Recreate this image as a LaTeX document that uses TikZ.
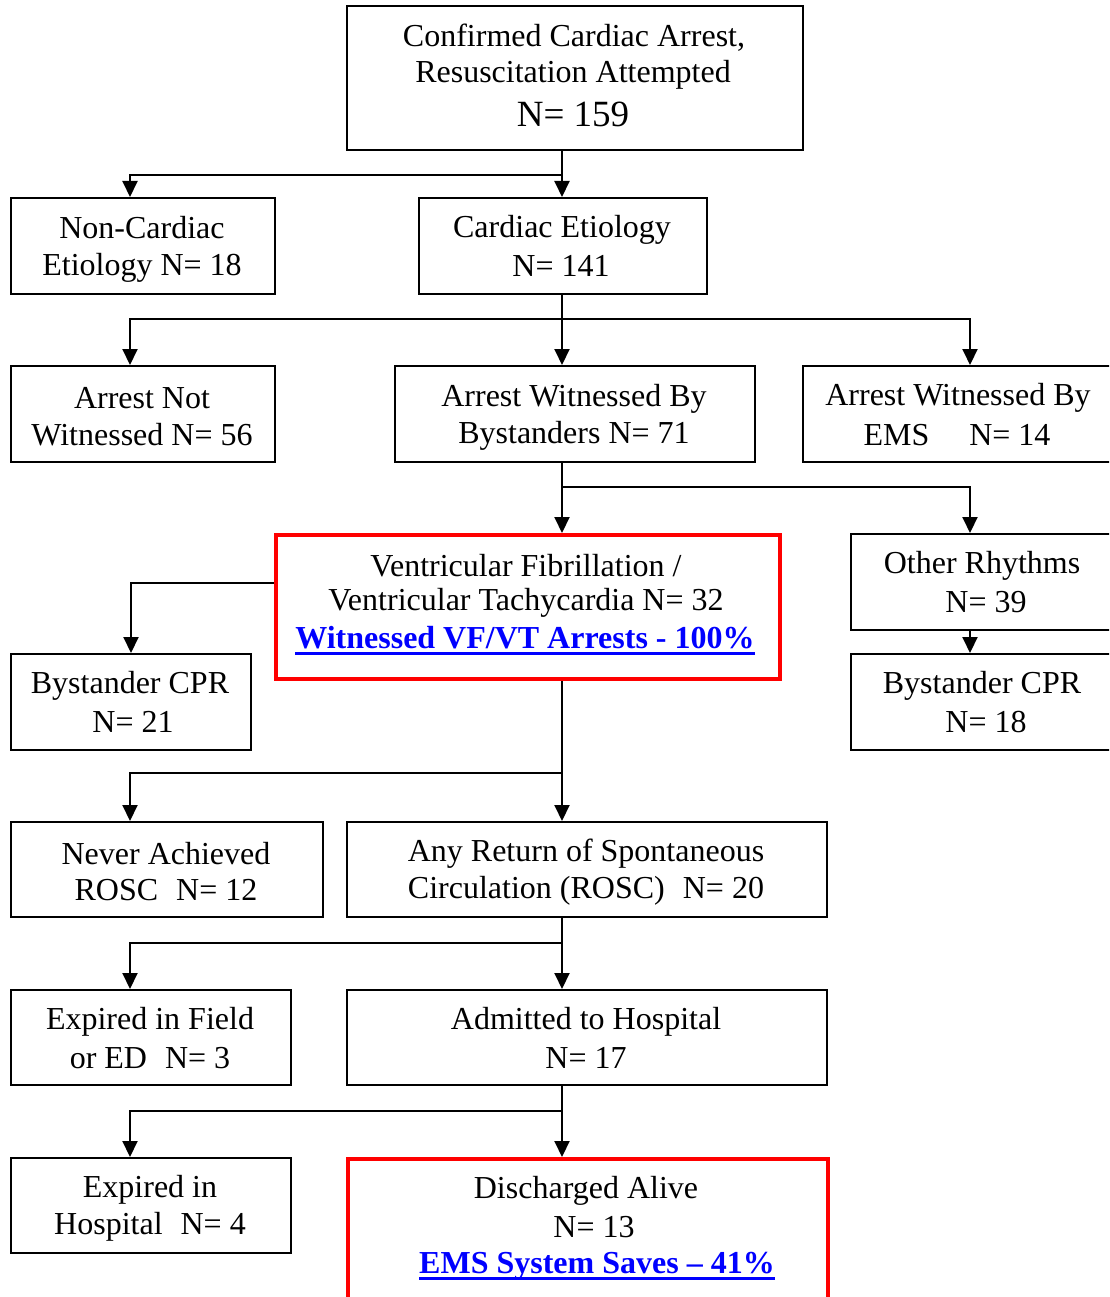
\documentclass[tikz,border=0pt]{standalone}
\usepackage{fontspec}
\setmainfont{Liberation Serif}
\usetikzlibrary{arrows.meta}
\definecolor{rbox}{RGB}{255,0,0}
\definecolor{lnk}{RGB}{0,0,255}
\newcommand\blueul[1]{{\color{lnk}\bfseries\setbox0\hbox{#1}\rlap{\rule[-6.5pt]{\wd0}{3pt}}\box0}}
\begin{document}
\begin{tikzpicture}[x=1pt,y=-1pt,
  bx/.style={draw=black,line width=2pt,anchor=north west,inner sep=0pt,minimum width=#1},
  bx/.default=100pt,
  rbx/.style={bx=#1,draw=rbox,line width=4pt},
  txt/.style={align=center,inner sep=0pt,yshift=-3pt,font=\fontsize{32}{37}\selectfont},
  arr/.style={line width=2pt,-{Triangle[width=15pt,length=16pt]}}]
\useasboundingbox (0,0) rectangle (1109,1297);
\coordinate (sp) at (562,0);
\coordinate (lx) at (130,0);
\coordinate (rx) at (970,0);
\begin{scope}
\clip (0,0) rectangle (1109,1297);
% boxes
\node[bx=456pt,minimum height=144pt] (top) at (346,5) {};
\node[bx=264pt,minimum height=96pt] (noncard) at (10,197) {};
\node[bx=288pt,minimum height=96pt] (card) at (418,197) {};
\node[bx=264pt,minimum height=96pt] (notwit) at (10,365) {};
\node[bx=360pt,minimum height=96pt] (bystw) at (394,365) {};
\node[bx=330pt,minimum height=96pt] (emsw) at (802,365) {};
\node[rbx=504pt,minimum height=144pt] (vfvt) at (274,533) {};
\node[bx=290pt,minimum height=96pt] (other) at (850,533) {};
\node[bx=290pt,minimum height=96pt] (cprr) at (850,653) {};
\node[bx=240pt,minimum height=96pt] (cprl) at (10,653) {};
\node[bx=312pt,minimum height=95pt] (never) at (10,821) {};
\node[bx=480pt,minimum height=95pt] (rosc) at (346,821) {};
\node[bx=280pt,minimum height=95pt] (expf) at (10,989) {};
\node[bx=480pt,minimum height=95pt] (adm) at (346,989) {};
\node[bx=280pt,minimum height=95pt] (exph) at (10,1157) {};
\node[rbx=480pt,minimum height=170pt] (disc) at (346,1157) {};
\end{scope}
% texts
\node[txt] (t1) at (574,35) {Confirmed Cardiac Arrest,};
\node[txt] (t2) at (573,72) {Resuscitation Attempted};
\node[txt,font=\fontsize{37}{42}\selectfont] (t3) at (573,111) {N= 159};
\node[txt] (t4) at (142,246) {Non-Cardiac\\Etiology N= 18};
\node[txt] (t5) at (562,227) {Cardiac Etiology};
\node[txt] (t6) at (561,263) {N= 141};
\node[txt] (t7) at (142,414) {Arrest Not\\Witnessed N= 56};
\node[txt] (t8) at (574,414) {Arrest Witnessed By\\Bystanders N= 71};
\node[txt] (t9) at (958,395) {Arrest Witnessed By};
\node[txt] (t10) at (957,432) {EMS\hspace{40pt}N= 14};
\node[txt] (t11) at (526,563) {Ventricular Fibrillation /};
\node[txt] (t12) at (526,600) {Ventricular Tachycardia N= 32};
\node[txt] (t13) at (525,638) {\blueul{Witnessed VF/VT Arrests - 100\%}};
\node[txt] (t14) at (982,563) {Other Rhythms};
\node[txt] (t15) at (986,599) {N= 39};
\node[txt] (t16) at (982,683) {Bystander CPR};
\node[txt] (t17) at (986,719) {N= 18};
\node[txt] (t18) at (130,683) {Bystander CPR};
\node[txt] (t19) at (133,719) {N= 21};
\node[txt] (t20) at (166,851) {Never Achieved};
\node[txt] (t21) at (166,887) {ROSC\hspace{10pt} N= 12};
\node[txt] (t22) at (586,851) {Any Return of Spontaneous};
\node[txt] (t23) at (586,888) {Circulation (ROSC)\hspace{10pt} N= 20};
\node[txt] (t24) at (150,1019) {Expired in Field};
\node[txt] (t25) at (150,1055) {or ED\hspace{10pt} N= 3};
\node[txt] (t26) at (586,1019) {Admitted to Hospital};
\node[txt] (t27) at (586,1055) {N= 17};
\node[txt] (t28) at (150,1187) {Expired in};
\node[txt] (t29) at (150,1224) {Hospital\hspace{10pt} N= 4};
\node[txt] (t30) at (586,1188) {Discharged Alive};
\node[txt] (t31) at (594,1224) {N= 13};
\node[txt] (t32) at (597,1263) {\blueul{EMS System Saves -- 41\%}};
% connectors
\draw[arr] (top.south -| sp) -- (card.north -| sp);
\draw[arr] ([yshift=-24pt]top.south -| sp) -| (noncard.north -| lx);
\draw[arr] (card.south -| sp) -- (bystw.north -| sp);
\draw[arr] ([yshift=-24pt]card.south -| sp) -| (notwit.north -| lx);
\draw[arr] ([yshift=-24pt]card.south -| sp) -| (emsw.north -| rx);
\draw[arr] (bystw.south -| sp) -- (vfvt.north -| sp);
\draw[arr] ([yshift=-24pt]bystw.south -| sp) -| (other.north -| rx);
\draw[arr] ([yshift=24pt]vfvt.west) -| (cprl.north);
\draw[arr] (other.south -| rx) -- (cprr.north -| rx);
\draw[arr] (vfvt.south -| sp) -- (rosc.north -| sp);
\draw[arr] ([yshift=48pt]rosc.north -| sp) -| (never.north -| lx);
\draw[arr] (rosc.south -| sp) -- (adm.north -| sp);
\draw[arr] ([yshift=-25pt]rosc.south -| sp) -| (expf.north -| lx);
\draw[arr] (adm.south -| sp) -- (disc.north -| sp);
\draw[arr] ([yshift=-25pt]adm.south -| sp) -| (exph.north -| lx);
\end{tikzpicture}
\end{document}
